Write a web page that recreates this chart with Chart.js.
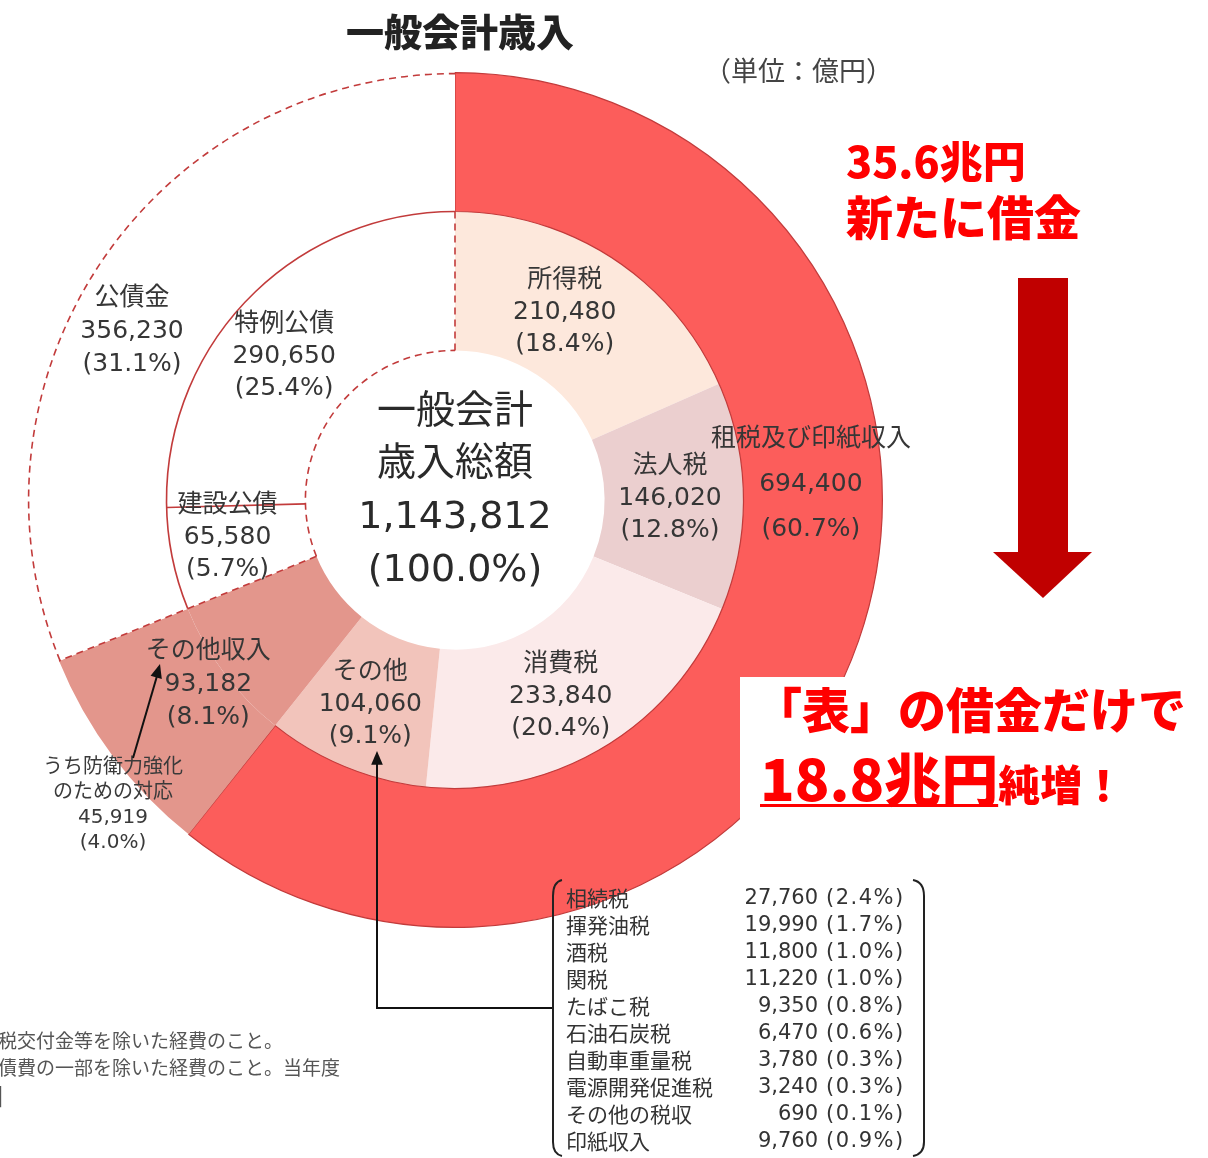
<!DOCTYPE html>
<html lang="ja">
<head>
<meta charset="utf-8">
<title>一般会計歳入</title>
<script src="https://cdn.jsdelivr.net/npm/chart.js@4.4.1/dist/chart.umd.min.js"></script>
<style>
  html, body { margin: 0; padding: 0; background: #fff; }
  #wrap { position: relative; width: 1208px; height: 1158px; overflow: hidden;
          font-family: "Noto Sans CJK JP", "Noto Sans", sans-serif; }
  #wrap canvas { position: absolute; left: 0; top: 0; }
  .t { position: absolute; white-space: nowrap; color: #333; }
  .red { color: #ff0000; font-weight: 900; }
  #title { left: 0; width: 920px; top: 2px; text-align: center; font-size: 38px; font-weight: 900; color: #222; }
  #unit { left: 704px; top: 50px; font-size: 27px; color: #444; }
  #box { position: absolute; left: 740px; top: 677px; width: 468px; height: 143px; background: #fff; }
  #tbl { position: absolute; left: 566px; top: 884px; border-collapse: collapse; font-size: 21px; color: #333;
         font-family: "DejaVu Sans", "Noto Sans CJK JP", sans-serif; table-layout: fixed; }
  #tbl td { padding: 0; height: 27px; line-height: 27px; white-space: nowrap; }
  #tbl td.n { width: 172px; font-family: "Noto Sans CJK JP", sans-serif; }
  #tbl td.v { text-align: right; width: 80px; padding-right: 8px; }
  #tbl td.p { letter-spacing: 1.5px; }
  .foot { left: -2px; font-size: 19px; color: #555; }
</style>
</head>
<body>
<div id="wrap">
  <canvas id="c" width="1208" height="1158"></canvas>
  <div class="t" id="title">一般会計歳入</div>
  <div class="t" id="unit">（単位：億円）</div>

  <div class="t red" style="left:846px; top:129px; font-size:43px; line-height:60px;">35.6兆円</div>
  <div class="t red" style="left:846px; top:185px; font-size:47px; line-height:60px;">新たに借金</div>

  <div id="box">
    <div class="t red" style="left:14px; top:0px; font-size:48px; line-height:60px;">「表」の借金だけで</div>
    <div class="t red" style="left:20px; top:64px; font-size:42px; line-height:70px;">
      <span style="font-size:57px; text-decoration: underline; text-decoration-thickness: 3px; text-underline-offset: 3px;">18.8兆円</span>純増！</div>
  </div>

  <table id="tbl"></table>

  <div class="t foot" style="top:1026px;">税交付金等を除いた経費のこと。</div>
  <div class="t foot" style="top:1053px;">債費の一部を除いた経費のこと。当年度</div>
  <div class="t foot" style="top:1080px;">|</div>
</div>

<script>
// ---- data ----
const TOTAL = 1143812;

// 外側リング
const outerLabels = ["租税及び印紙収入", "その他収入", "公債金"];
const outerValues = [694400, 93182, 356230];
const outerPct = ["60.7%", "8.1%", "31.1%"];

// 内側リング
const innerLabels = ["所得税", "法人税", "消費税", "その他", "その他収入", "建設公債", "特例公債"];
const innerValues = [210480, 146020, 233840, 104060, 93182, 65580, 290650];
const innerPct = ["18.4%", "12.8%", "20.4%", "9.1%", "8.1%", "5.7%", "25.4%"];

// うち防衛力強化のための対応
const defenseValue = 45919;
const defensePct = "4.0%";

// その他の内訳
const otherTaxNames = ["相続税", "揮発油税", "酒税", "関税", "たばこ税", "石油石炭税", "自動車重量税", "電源開発促進税", "その他の税収", "印紙収入"];
const otherTaxValues = [27760, 19990, 11800, 11220, 9350, 6470, 3780, 3240, 690, 9760];
const otherTaxPct = ["2.4%", "1.7%", "1.0%", "1.0%", "0.8%", "0.6%", "0.3%", "0.3%", "0.1%", "0.9%"];

// ---- colors ----
const RED = "#fc5d5b";
const EDGE = "#c23b3b";
const SALMON = "#e3968c";
const outerColors = [RED, SALMON, "#ffffff"];
const innerColors = ["#fde8dc", "#ebcfcf", "#fbeaea", "#f2c4bb", SALMON, "#ffffff", "#ffffff"];

const FONT = '"DejaVu Sans", "Noto Sans CJK JP", sans-serif';
const fmt = (v) => v.toLocaleString("en-US");

// table
(function () {
    const tb = document.getElementById("tbl");
    otherTaxNames.forEach((n, i) => {
        const tr = document.createElement("tr");
        tr.innerHTML = `<td class="n">${n}</td><td class="v">${fmt(otherTaxValues[i])}</td><td class="p">(${otherTaxPct[i]})</td>`;
        tb.appendChild(tr);
    });
})();

// label placement: dataset, index, dx, dy, line height, font size
const LABELS = [
    { ds: 1, i: 0, dx: -10, dy: -4, lh: 32, fs: 25 },
    { ds: 1, i: 1, dx: -4, dy: 1, lh: 32, fs: 25 },
    { ds: 1, i: 2, dx: -7, dy: 9, lh: 32, fs: 25 },
    { ds: 1, i: 3, dx: -2, dy: 2, lh: 32, fs: 25 },
    { ds: 1, i: 5, dx: -13, dy: -7, lh: 32, fs: 25 },
    { ds: 1, i: 6, dx: -14, dy: 9, lh: 32, fs: 25 },
    { ds: 0, i: 0, dx: 18, dy: -134, lh: 45, fs: 25 },
    { ds: 0, i: 1, dx: 40, dy: -30, lh: 33, fs: 25 },
    { ds: 0, i: 2, dx: -26, dy: 31, lh: 33, fs: 25 },
];

function arrowHead(ctx, x1, y1, x2, y2, size) {
    const a = Math.atan2(y2 - y1, x2 - x1);
    ctx.beginPath();
    ctx.moveTo(x2, y2);
    ctx.lineTo(x2 - size * Math.cos(a - 0.4), y2 - size * Math.sin(a - 0.4));
    ctx.lineTo(x2 - size * Math.cos(a + 0.4), y2 - size * Math.sin(a + 0.4));
    ctx.closePath();
    ctx.fill();
}

const decor = {
    id: "decor",
    afterDatasetsDraw(chart) {
        const ctx = chart.ctx;
        const outer = chart.getDatasetMeta(0).data;
        const inner = chart.getDatasetMeta(1).data;
        const kou = outer[2].getProps(["x", "y", "startAngle", "endAngle", "innerRadius", "outerRadius"], true);
        const ken = inner[5].getProps(["startAngle", "endAngle", "innerRadius", "outerRadius"], true);
        const tok = inner[6].getProps(["startAngle", "endAngle", "innerRadius", "outerRadius"], true);
        const cx = kou.x, cy = kou.y;
        const hole = ken.innerRadius, mid = ken.outerRadius, rim = kou.outerRadius;

        const radial = (ang, r0, r1) => {
            ctx.beginPath();
            ctx.moveTo(cx + r0 * Math.cos(ang), cy + r0 * Math.sin(ang));
            ctx.lineTo(cx + r1 * Math.cos(ang), cy + r1 * Math.sin(ang));
            ctx.stroke();
        };

        ctx.save();
        ctx.strokeStyle = EDGE;
        ctx.lineWidth = 1.6;

        // dashed: 公債金 outer rim, hole edge, separators
        ctx.setLineDash([7, 5]);
        ctx.beginPath(); ctx.arc(cx, cy, rim - 1, kou.startAngle, kou.endAngle); ctx.stroke();
        ctx.beginPath(); ctx.arc(cx, cy, hole, ken.startAngle, tok.endAngle); ctx.stroke();
        radial(kou.startAngle, hole, rim);
        radial(tok.endAngle, hole, mid);

        // solid: inner ring edge and 建設/特例 separator
        ctx.setLineDash([]);
        ctx.beginPath(); ctx.arc(cx, cy, mid, ken.startAngle, tok.endAngle); ctx.stroke();
        radial(tok.startAngle, hole, mid);
        ctx.restore();

        // segment labels
        ctx.save();
        ctx.fillStyle = "#363636";
        ctx.textAlign = "center";
        ctx.textBaseline = "middle";
        for (const L of LABELS) {
            const el = chart.getDatasetMeta(L.ds).data[L.i];
            const p = el.getCenterPoint();
            const name = L.ds === 0 ? outerLabels[L.i] : innerLabels[L.i];
            const val = L.ds === 0 ? outerValues[L.i] : innerValues[L.i];
            const pct = L.ds === 0 ? outerPct[L.i] : innerPct[L.i];
            const lines = [name, fmt(val), "(" + pct + ")"];
            ctx.font = L.fs + "px " + FONT;
            lines.forEach((s, k) => {
                ctx.fillText(s, p.x + L.dx, p.y + L.dy + (k - 1) * L.lh);
            });
        }

        // center
        ctx.fillStyle = "#2a2a2a";
        ctx.font = "39px " + FONT;
        ctx.fillText("一般会計", cx, cy - 87);
        ctx.fillText("歳入総額", cx, cy - 35);
        ctx.font = "38px " + FONT;
        ctx.fillText(fmt(TOTAL), cx, cy + 18);
        ctx.fillText("(100.0%)", cx, cy + 71);

        // defense note
        ctx.font = "20px " + FONT;
        ctx.fillStyle = "#3a3a3a";
        const dl = ["うち防衛力強化", "のための対応", fmt(defenseValue), "(" + defensePct + ")"];
        dl.forEach((s, k) => ctx.fillText(s, 113, 768 + k * 25));

        // arrows (black)
        ctx.strokeStyle = "#111";
        ctx.fillStyle = "#111";
        ctx.lineWidth = 2;
        ctx.beginPath(); ctx.moveTo(133, 758); ctx.lineTo(157, 676); ctx.stroke();
        arrowHead(ctx, 133, 758, 160, 664, 15);
        ctx.beginPath(); ctx.moveTo(553, 1008); ctx.lineTo(377, 1008); ctx.lineTo(377, 764); ctx.stroke();
        arrowHead(ctx, 377, 1008, 377, 751, 15);

        // bracket around breakdown
        ctx.lineWidth = 2;
        ctx.strokeStyle = "#222";
        ctx.beginPath();
        ctx.moveTo(562, 880); ctx.quadraticCurveTo(553, 882, 553, 896);
        ctx.lineTo(553, 1142); ctx.quadraticCurveTo(553, 1154, 562, 1156);
        ctx.stroke();
        ctx.beginPath();
        ctx.moveTo(913, 880); ctx.quadraticCurveTo(924, 882, 924, 896);
        ctx.lineTo(924, 1142); ctx.quadraticCurveTo(924, 1154, 913, 1156);
        ctx.stroke();

        // big red arrow
        ctx.fillStyle = "#c00000";
        ctx.fillRect(1018, 278, 50, 276);
        ctx.beginPath();
        ctx.moveTo(993, 552); ctx.lineTo(1092, 552); ctx.lineTo(1043, 598); ctx.closePath();
        ctx.fill();
        ctx.restore();
    }
};

new Chart(document.getElementById("c"), {
    type: "doughnut",
    data: {
        labels: innerLabels,
        datasets: [
            {
                label: "外側",
                data: outerValues,
                backgroundColor: outerColors,
                borderColor: [EDGE, SALMON, "#ffffff"],
                borderWidth: [1.2, 0, 0],
            },
            {
                label: "内側",
                data: innerValues,
                backgroundColor: innerColors,
                borderColor: innerColors,
                borderWidth: 0,
            }
        ]
    },
    options: {
        responsive: false,
        animation: false,
        cutout: "35%",
        layout: { padding: { left: 27, right: 325, top: 72, bottom: 230 } },
        plugins: { legend: { display: false }, tooltip: { enabled: false } },
        events: []
    },
    plugins: [decor]
});
</script>
</body>
</html>
